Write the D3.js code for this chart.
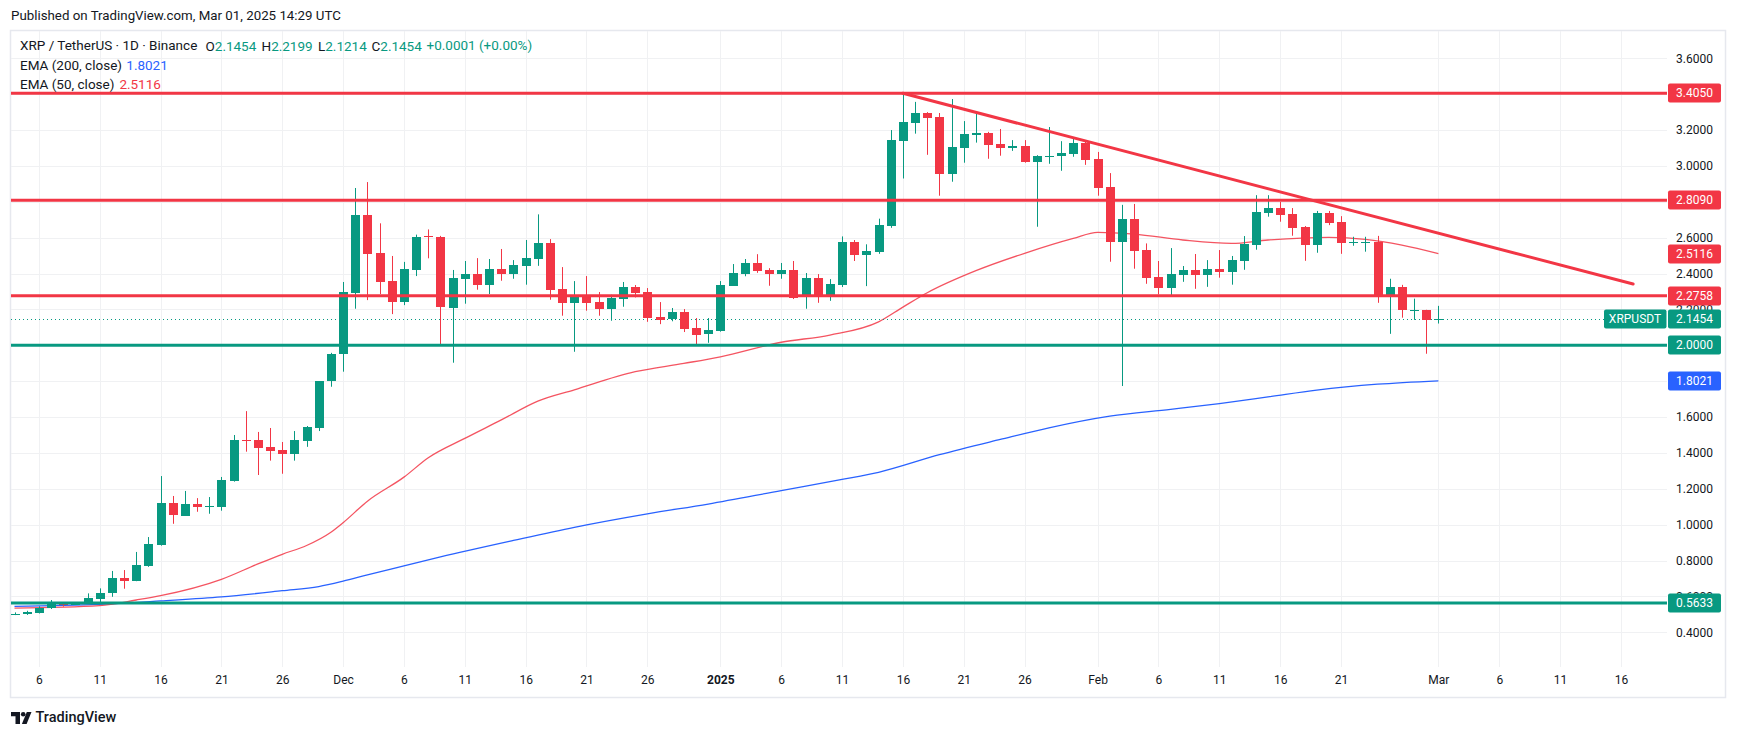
<!DOCTYPE html>
<html><head><meta charset="utf-8">
<script src="https://cdn.jsdelivr.net/npm/d3@7"></script>
<style>
body{margin:0;background:#fff;}
svg{display:block;font-family:Roboto,"Noto Sans",sans-serif;}
</style>
</head><body>
<svg id="chart" width="1737" height="737"></svg>
<script>
// ---------------- DATA ----------------
const startDate = "2024-11-04";
const endDate = "2025-03-01";
const opens = [0.499,0.499,0.509,0.535,0.558,0.556,0.562,0.586,0.621,0.703,0.688,0.771,0.887,1.119,1.050,1.115,1.100,1.100,1.245,1.474,1.472,1.433,1.416,1.396,1.468,1.540,1.797,1.947,2.293,2.726,2.513,2.358,2.243,2.421,2.607,2.603,2.210,2.371,2.397,2.338,2.425,2.399,2.443,2.483,2.570,2.313,2.237,2.282,2.239,2.204,2.260,2.325,2.297,2.159,2.143,2.185,2.096,2.059,2.081,2.332,2.399,2.458,2.420,2.399,2.420,2.270,2.375,2.270,2.336,2.576,2.503,2.520,2.667,3.140,3.241,3.295,3.273,2.956,3.101,3.174,3.184,3.122,3.101,3.111,3.018,3.055,3.057,3.068,3.128,3.038,2.882,2.577,2.704,2.531,2.381,2.321,2.393,2.420,2.393,2.425,2.410,2.471,2.560,2.739,2.765,2.731,2.659,2.560,2.737,2.687,2.575,2.573,2.577,2.276,2.325,2.196,2.198,2.1454];
const highs = [0.511,0.520,0.545,0.580,0.563,0.568,0.617,0.645,0.742,0.747,0.848,0.931,1.271,1.160,1.188,1.148,1.154,1.266,1.500,1.633,1.517,1.539,1.461,1.522,1.550,1.800,1.958,2.353,2.877,2.910,2.680,2.498,2.465,2.617,2.646,2.610,2.420,2.470,2.486,2.481,2.537,2.475,2.587,2.730,2.592,2.436,2.358,2.386,2.297,2.282,2.353,2.336,2.319,2.241,2.208,2.202,2.152,2.152,2.358,2.453,2.481,2.508,2.430,2.459,2.470,2.403,2.397,2.369,2.607,2.587,2.563,2.706,3.200,3.405,3.357,3.300,3.295,3.373,3.250,3.295,3.190,3.206,3.144,3.144,3.060,3.217,3.138,3.155,3.138,3.078,2.960,2.783,2.788,2.568,2.470,2.542,2.442,2.509,2.475,2.531,2.498,2.609,2.837,2.837,2.799,2.765,2.665,2.749,2.749,2.720,2.605,2.605,2.610,2.371,2.337,2.260,2.198,2.2199];
const lows = [0.496,0.497,0.505,0.530,0.543,0.555,0.558,0.562,0.598,0.643,0.685,0.765,0.883,1.005,1.050,1.072,1.061,1.078,1.240,1.407,1.277,1.357,1.284,1.357,1.434,1.522,1.769,1.853,2.204,2.252,2.286,2.174,2.224,2.386,2.485,2.000,1.903,2.232,2.310,2.286,2.360,2.371,2.338,2.443,2.254,2.165,1.964,2.193,2.165,2.137,2.215,2.267,2.131,2.118,2.134,2.074,1.998,2.014,2.076,2.332,2.385,2.404,2.332,2.371,2.258,2.204,2.237,2.248,2.325,2.470,2.330,2.510,2.655,2.930,3.180,3.062,2.834,2.912,3.018,3.130,3.040,3.057,3.084,3.018,2.661,3.012,2.973,3.051,3.006,2.834,2.466,1.773,2.427,2.343,2.284,2.271,2.354,2.315,2.326,2.377,2.338,2.421,2.533,2.717,2.689,2.611,2.471,2.516,2.670,2.510,2.555,2.522,2.237,2.064,2.154,2.142,1.953,2.1214];
const closes = [0.501,0.511,0.537,0.562,0.550,0.566,0.590,0.620,0.703,0.688,0.775,0.892,1.119,1.050,1.115,1.100,1.102,1.249,1.472,1.470,1.429,1.412,1.396,1.472,1.544,1.800,1.950,2.295,2.726,2.510,2.354,2.243,2.425,2.606,2.600,2.210,2.375,2.397,2.338,2.425,2.399,2.447,2.486,2.570,2.310,2.237,2.282,2.237,2.198,2.263,2.325,2.293,2.154,2.145,2.184,2.092,2.059,2.083,2.337,2.403,2.458,2.416,2.399,2.420,2.263,2.375,2.270,2.342,2.576,2.503,2.525,2.672,3.145,3.245,3.295,3.269,2.956,3.105,3.178,3.184,3.118,3.101,3.111,3.023,3.054,3.058,3.072,3.128,3.034,2.878,2.577,2.704,2.527,2.377,2.321,2.398,2.420,2.393,2.425,2.410,2.475,2.566,2.743,2.765,2.728,2.655,2.560,2.737,2.683,2.572,2.578,2.578,2.276,2.325,2.198,2.199,2.145,2.1454];

const ema50Dates = ["2024-11-04","2024-11-11","2024-11-14","2024-11-16","2024-11-21","2024-11-24","2024-11-26","2024-11-28","2024-11-30","2024-12-01","2024-12-03","2024-12-06","2024-12-08","2024-12-11","2024-12-14","2024-12-17","2024-12-20","2024-12-25","2024-12-29","2025-01-01","2025-01-06","2025-01-10","2025-01-14","2025-01-16","2025-01-18","2025-01-22","2025-01-26","2025-01-30","2025-02-01","2025-02-04","2025-02-08","2025-02-12","2025-02-15","2025-02-20","2025-02-23","2025-02-26","2025-03-01"];
const ema50Values = [0.535,0.549,0.580,0.604,0.695,0.781,0.835,0.884,0.958,1.011,1.131,1.265,1.373,1.481,1.584,1.689,1.752,1.853,1.899,1.936,2.017,2.057,2.131,2.213,2.293,2.416,2.513,2.596,2.630,2.620,2.587,2.568,2.587,2.602,2.591,2.559,2.5116];

const ema200Dates = ["2024-11-04","2024-11-11","2024-11-16","2024-11-21","2024-11-26","2024-11-29","2024-12-01","2024-12-03","2024-12-06","2024-12-09","2024-12-15","2024-12-20","2024-12-26","2024-12-31","2025-01-06","2025-01-11","2025-01-14","2025-01-19","2025-01-24","2025-01-28","2025-02-02","2025-02-07","2025-02-11","2025-02-15","2025-02-19","2025-02-24","2025-03-01"];
const ema200Values = [0.545,0.556,0.575,0.597,0.632,0.655,0.685,0.720,0.770,0.820,0.912,0.985,1.060,1.115,1.190,1.252,1.292,1.390,1.475,1.540,1.605,1.643,1.675,1.712,1.750,1.783,1.8021];

const resistanceLevels = [3.4050, 2.8090, 2.2758];
const supportLevels = [2.0000, 0.5633];
const trendDates = ["2025-01-16", "2025-03-17"];
const trendValues = [3.405, 2.3415];
const lastPrice = 2.1454;
const symbolName = "XRPUSDT";

const priceTicks = [0.4,0.6,0.8,1.0,1.2,1.4,1.6,1.8,2.0,2.2,2.4,2.6,2.8,3.0,3.2,3.4,3.6];
const timeTickDates = ["2024-11-06","2024-11-11","2024-11-16","2024-11-21","2024-11-26","2024-12-01","2024-12-06","2024-12-11","2024-12-16","2024-12-21","2024-12-26","2025-01-01","2025-01-06","2025-01-11","2025-01-16","2025-01-21","2025-01-26","2025-02-01","2025-02-06","2025-02-11","2025-02-16","2025-02-21","2025-03-01","2025-03-06","2025-03-11","2025-03-16"];
const timeTickLabels = ["6","11","16","21","26","Dec","6","11","16","21","26","2025","6","11","16","21","26","Feb","6","11","16","21","Mar","6","11","16"];

const headerText = "Published on TradingView.com, Mar 01, 2025 14:29 UTC";
const legendTitle = "XRP / TetherUS · 1D · Binance";
const legendOHLC = [["O","2.1454"],["H","2.2199"],["L","2.1214"],["C","2.1454"]];
const legendChange = "+0.0001 (+0.00%)";
const ema200Label = "EMA (200, close)";
const ema50Label = "EMA (50, close)";

// ---------------- STYLE ----------------
const GREEN = "#089981", RED = "#f23645", BLUE = "#2962ff", TEXT = "#131722", GRID = "#f0f1f3";
const plot = {left: 11, right: 1667, top: 31, bottom: 667};

const svg = d3.select("#chart");
const parse = d3.utcParse("%Y-%m-%d");
const dates = d3.utcDay.range(parse(startDate), d3.utcDay.offset(parse(endDate), 1));
const candles = dates.map((d, i) => ({d, o: opens[i], h: highs[i], l: lows[i], c: closes[i]}));

const x = d3.scaleUtc().domain([parse(startDate), parse(endDate)]).range([14.5, 1438.4]);
const y = d3.scaleLinear().domain([0.4, 3.6]).range([632.3, 58.3]);

svg.append("rect").attr("width", 1737).attr("height", 737).attr("fill", "#fff");

svg.append("defs").append("clipPath").attr("id", "plotclip")
  .append("rect").attr("x", plot.left).attr("y", plot.top)
  .attr("width", plot.right - plot.left).attr("height", plot.bottom - plot.top);

// frame
svg.append("rect").attr("x", 10.5).attr("y", 30.5).attr("width", 1715).attr("height", 667)
  .attr("fill", "none").attr("stroke", "#e6e8ee").attr("stroke-width", 1.5);

// header
svg.append("text").attr("x", 11).attr("y", 16).attr("dominant-baseline", "middle")
  .attr("font-size", 13.3).attr("fill", TEXT).text(headerText);

// grid
const grid = svg.append("g").attr("clip-path", "url(#plotclip)");
grid.selectAll(".hg").data(priceTicks).join("line")
  .attr("x1", plot.left).attr("x2", plot.right)
  .attr("y1", d => Math.round(y(d)) + 0.5).attr("y2", d => Math.round(y(d)) + 0.5)
  .attr("stroke", GRID).attr("stroke-width", 1);
grid.selectAll(".vg").data(timeTickDates).join("line")
  .attr("x1", d => Math.round(x(parse(d))) + 0.5).attr("x2", d => Math.round(x(parse(d))) + 0.5)
  .attr("y1", plot.top).attr("y2", plot.bottom)
  .attr("stroke", GRID).attr("stroke-width", 1);

const g = svg.append("g").attr("clip-path", "url(#plotclip)");

// EMA lines
const emaLine = d3.line().x(d => x(d[0])).y(d => y(d[1])).curve(d3.curveMonotoneX);
g.append("path").datum(ema200Dates.map((d, i) => [parse(d), ema200Values[i]]))
  .attr("d", emaLine).attr("fill", "none").attr("stroke", BLUE).attr("stroke-width", 1.3);
g.append("path").datum(ema50Dates.map((d, i) => [parse(d), ema50Values[i]]))
  .attr("d", emaLine).attr("fill", "none").attr("stroke", RED).attr("stroke-opacity", 0.85).attr("stroke-width", 1.3);

// last price dotted line
g.append("line").attr("x1", plot.left).attr("x2", 1604)
  .attr("y1", Math.round(y(lastPrice)) + 0.5).attr("y2", Math.round(y(lastPrice)) + 0.5)
  .attr("stroke", GREEN).attr("stroke-width", 1).attr("stroke-dasharray", "1,3");

// candles
const cg = g.append("g");
const cx = d => Math.round(x(d.d));
cg.selectAll(".wick").data(candles).join("rect")
  .attr("x", d => cx(d)).attr("width", 1)
  .attr("y", d => y(d.h)).attr("height", d => Math.max(1, y(d.l) - y(d.h)))
  .attr("fill", d => d.c >= d.o ? GREEN : RED);
cg.selectAll(".body").data(candles).join("rect")
  .attr("x", d => cx(d) - 4).attr("width", 9)
  .attr("y", d => Math.round(y(Math.max(d.o, d.c))))
  .attr("height", d => Math.max(1, Math.round(Math.abs(y(d.o) - y(d.c)))))
  .attr("fill", d => d.c >= d.o ? GREEN : RED);

// horizontal levels
g.selectAll(".res").data(resistanceLevels).join("line")
  .attr("x1", plot.left).attr("x2", plot.right)
  .attr("y1", d => y(d)).attr("y2", d => y(d))
  .attr("stroke", RED).attr("stroke-width", 3);
g.selectAll(".sup").data(supportLevels).join("line")
  .attr("x1", plot.left).attr("x2", plot.right)
  .attr("y1", d => y(d)).attr("y2", d => y(d))
  .attr("stroke", GREEN).attr("stroke-width", 3);

// trend line
g.append("line")
  .attr("x1", x(parse(trendDates[0]))).attr("y1", y(trendValues[0]))
  .attr("x2", x(parse(trendDates[1]))).attr("y2", y(trendValues[1]))
  .attr("stroke", RED).attr("stroke-width", 3).attr("stroke-linecap", "round");

// price axis
const yAxis = d3.axisRight(y).tickValues(priceTicks).tickFormat(d3.format(".4f"))
  .tickSize(0).tickPadding(0);
const ya = svg.append("g").attr("transform", "translate(1676,0)").call(yAxis);
ya.select(".domain").remove();
ya.selectAll("text").attr("font-size", 12).attr("fill", TEXT).attr("font-family", "Roboto, sans-serif");

// time axis
const xAxis = d3.axisBottom(x).tickValues(timeTickDates.map(parse))
  .tickFormat((d, i) => timeTickLabels[i]).tickSize(0).tickPadding(0);
const xa = svg.append("g").attr("transform", "translate(0,675)").call(xAxis);
xa.select(".domain").remove();
xa.selectAll("text").attr("font-size", 12).attr("fill", TEXT).attr("font-family", "Roboto, sans-serif")
  .attr("font-weight", (d, i) => timeTickLabels[i] === "2025" ? 700 : 400);

// price badges
const badges = [
  {v: resistanceLevels[0], c: RED}, {v: resistanceLevels[1], c: RED},
  {v: ema50Values[ema50Values.length - 1], c: RED}, {v: resistanceLevels[2], c: RED},
  {v: lastPrice, c: GREEN}, {v: supportLevels[0], c: GREEN},
  {v: ema200Values[ema200Values.length - 1], c: BLUE}, {v: supportLevels[1], c: GREEN}
];
const bg = svg.append("g");
badges.forEach(b => {
  const yy = Math.round(y(b.v));
  bg.append("rect").attr("x", 1668).attr("y", yy - 9.5).attr("width", 53).attr("height", 19)
    .attr("rx", 2).attr("fill", b.c);
  bg.append("text").attr("x", 1676).attr("y", yy + 0.5).attr("dominant-baseline", "middle")
    .attr("font-size", 12).attr("fill", "#fff").text(d3.format(".4f")(b.v));
});
// symbol badge
{
  const yy = Math.round(y(lastPrice));
  bg.append("rect").attr("x", 1604).attr("y", yy - 9.5).attr("width", 62.5).attr("height", 19)
    .attr("rx", 2).attr("fill", GREEN);
  bg.append("text").attr("x", 1635).attr("y", yy + 0.5).attr("dominant-baseline", "middle")
    .attr("text-anchor", "middle").attr("font-size", 12).attr("fill", "#fff").text(symbolName);
}

// legend
const lg = svg.append("g").attr("font-size", 13.5).attr("dominant-baseline", "middle");
lg.append("text").attr("x", 20).attr("y", 46.5).attr("fill", TEXT).text(legendTitle);
const ohlcX = [205.5, 261.5, 318, 371.5];
legendOHLC.forEach((p, i) => {
  const t = lg.append("text").attr("x", ohlcX[i]).attr("y", 46.5);
  t.append("tspan").attr("fill", TEXT).text(p[0]);
  t.append("tspan").attr("fill", GREEN).text(p[1]);
});
lg.append("text").attr("x", 426.5).attr("y", 46.5).attr("fill", GREEN).text(legendChange);
const l2 = lg.append("text").attr("x", 20).attr("y", 65.5);
l2.append("tspan").attr("fill", TEXT).text(ema200Label);
l2.append("tspan").attr("fill", BLUE).attr("x", 126.3).text(d3.format(".4f")(ema200Values[ema200Values.length - 1]));
const l3 = lg.append("text").attr("x", 20).attr("y", 84.5);
l3.append("tspan").attr("fill", TEXT).text(ema50Label);
l3.append("tspan").attr("fill", RED).attr("x", 119.4).text(d3.format(".4f")(ema50Values[ema50Values.length - 1]));

// TradingView logo
const logo = svg.append("g").attr("fill", TEXT);
logo.append("path").attr("d", "M11,712 H20 V724 H15.5 V716.2 H11 Z");
logo.append("circle").attr("cx", 23.2).attr("cy", 714.3).attr("r", 2.3);
logo.append("path").attr("d", "M26.8,712 H31.5 L26.6,724 H21.9 Z");
svg.append("text").attr("x", 35.5).attr("y", 718.5).attr("dominant-baseline", "middle")
  .attr("font-size", 14.5).attr("font-weight", 500).attr("fill", TEXT).text("TradingView");
</script>
</body></html>
